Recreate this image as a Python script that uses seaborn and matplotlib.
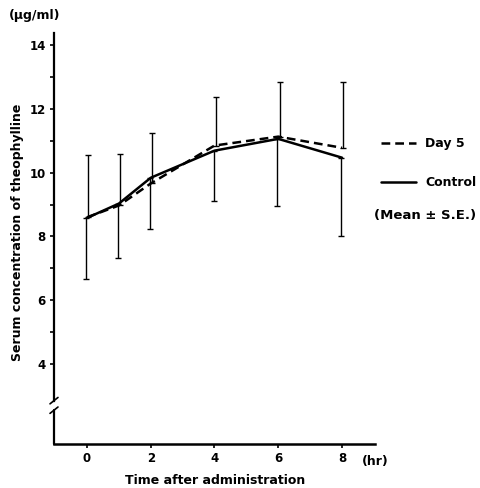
import matplotlib
matplotlib.use("Agg")
import matplotlib.pyplot as plt
import seaborn as sns
import pandas as pd
import numpy as np
from matplotlib.lines import Line2D

# ---- data ----
hours = [0, 1, 2, 4, 6, 8]
day5_mean = [8.60, 8.97, 9.66, 10.85, 11.13, 10.78]
day5_upper = [10.56, 10.60, 11.25, 12.36, 12.84, 12.84]   # mean + S.E.
control_mean = [8.58, 9.03, 9.84, 10.69, 11.06, 10.47]
control_lower = [6.66, 7.31, 8.22, 9.12, 8.94, 8.00]     # mean - S.E.
y_ticks = [4, 6, 8, 10, 12, 14]
x_ticks = [0, 2, 4, 6, 8]

sns.set_theme(style="white")
plt.rcParams['font.family'] = ['DejaVu Sans']
plt.rcParams['font.weight'] = 'bold'
plt.rcParams['text.color'] = 'black'
plt.rcParams['axes.labelcolor'] = 'black'
plt.rcParams['xtick.color'] = 'black'
plt.rcParams['ytick.color'] = 'black'

df = pd.DataFrame({
    "hr": hours * 2,
    "conc": day5_mean + control_mean,
    "group": ["Day 5"] * len(hours) + ["Control"] * len(hours),
})

fig = plt.figure(figsize=(4.81, 4.88), dpi=100)
ax = fig.add_axes([54 / 481, 1 - 444 / 488, 321 / 481, 411 / 488])

sns.lineplot(data=df, x="hr", y="conc", hue="group", style="group",
             palette={"Day 5": "black", "Control": "black"},
             dashes={"Day 5": (3.5, 2), "Control": ""},
             linewidth=1.8, ax=ax, legend=False)

# error bars (one-sided)
up_err = np.array(day5_upper) - np.array(day5_mean)
lo_err = np.array(control_mean) - np.array(control_lower)
ax.errorbar(np.array(hours) + 0.04, day5_mean, yerr=[np.zeros(len(hours)), up_err],
            fmt="none", ecolor="black", elinewidth=1.0, capsize=2.5, capthick=1.0)
ax.errorbar(np.array(hours) - 0.03, control_mean, yerr=[lo_err, np.zeros(len(hours))],
            fmt="none", ecolor="black", elinewidth=1.0, capsize=2.5, capthick=1.0)

ax.set_xlim(-1.035, 9.035)
ax.set_ylim(1.49, 14.38)
ax.set_xticks(x_ticks)
ax.set_yticks(y_ticks)
ax.set_yticks([5, 7, 9, 11, 13], minor=True)
ax.tick_params(axis="both", which="major", direction="out", length=3, width=1.2,
               labelsize=8.5, colors="black", pad=3, left=True, bottom=True)
ax.tick_params(axis="y", which="minor", direction="out", length=3, width=1.2, left=True)
for lab in ax.get_xticklabels() + ax.get_yticklabels():
    lab.set_fontweight("bold")

for s in ["top", "right"]:
    ax.spines[s].set_visible(False)
ax.spines["bottom"].set_color("black")
ax.spines["bottom"].set_linewidth(1.8)
ax.spines["left"].set_color("black")
ax.spines["left"].set_linewidth(1.6)
ax.spines["left"].set_bounds(2.85, 14.38)

# lower piece of y-axis and break marks
ax.plot([-1.035, -1.035], [1.49, 2.55], color="black", lw=1.6, clip_on=False)
ax.plot([-1.16, -0.91], [2.75, 2.95], color="black", lw=1.2, clip_on=False)
ax.plot([-1.16, -0.91], [2.45, 2.65], color="black", lw=1.2, clip_on=False)

ax.set_xlabel("")
ax.set_ylabel("")
fig.text(215 / 481, 1 - 481 / 488, "Time after administration", ha="center", va="center",
         fontsize=9, fontweight="bold")
fig.text(18 / 481, 1 - 232 / 488, "Serum concentration of theophylline", ha="center",
         va="center", rotation=90, fontsize=9, fontweight="bold")
fig.text(9 / 481, 1 - 16 / 488, "(µg/ml)", ha="left", va="center", fontsize=9,
         fontweight="bold")
fig.text(362 / 481, 1 - 461 / 488, "(hr)", ha="left", va="center", fontsize=9,
         fontweight="bold")

# legend
handles = [Line2D([], [], color="black", lw=1.8, dashes=(3.5, 2)),
           Line2D([], [], color="black", lw=1.8)]
leg = ax.legend(handles, ["Day 5", "Control"], loc="upper left",
                bbox_to_anchor=(370 / 481, 1 - 126 / 488), bbox_transform=fig.transFigure,
                frameon=False, labelspacing=2.05, handlelength=2.8, handletextpad=0.7,
                prop={"size": 9, "weight": "bold"})
fig.text(374 / 481, 1 - 215 / 488, "(Mean ± S.E.)", ha="left", va="center", fontsize=9.5,
         fontweight="bold")

fig.savefig("out.png", dpi=100)
